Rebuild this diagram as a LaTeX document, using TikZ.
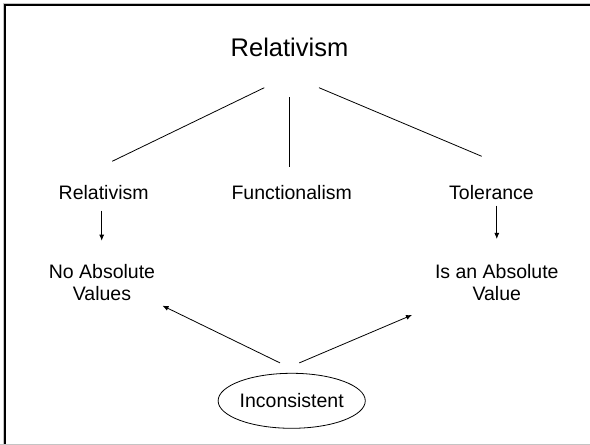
\documentclass[tikz,border=0pt]{standalone}
\usepackage{fontspec}
\setmainfont{Liberation Sans}
\usetikzlibrary{positioning,shapes.geometric,arrows.meta}
\definecolor{FrameGray}{HTML}{C4C4C4}

\begin{document}
\begin{tikzpicture}[x=1pt,y=1pt,
  lbl/.style={inner sep=0pt, anchor=base, align=center, font=\fontsize{19.5}{22.7}\selectfont},
  link/.style={line width=0.8pt},
  arr/.style={line width=0.8pt, -{Latex[length=6pt,width=5pt]}}]
  \useasboundingbox (0,0) rectangle (590,445);
  % frame
  \draw[FrameGray, line width=1pt] (3.3,0) |- (590,441.7);
  \draw[line width=2pt] (5,0) |- (590,440);
  \draw[FrameGray, line width=1pt] (0,0.8) -- (590,0.8);

  \node[lbl, font=\fontsize{25.5}{30}\selectfont] (top) at (289.5,388.3) {Relativism};
  \node[lbl] (rel) at (103.7,245.7) {Relativism};
  \node[lbl] (func) at (291.7,245.7) {Functionalism};
  \node[lbl] (tol) at (491.5,245.7) {Tolerance};
  \node[lbl] (noabs) at (102,144) {No Absolute\\Values};
  \node[lbl] (isabs) at (496.8,144) {Is an Absolute\\Value};
  \node[ellipse, draw, line width=0.8pt, inner sep=0pt, minimum width=143.4pt, minimum height=55pt,
    font=\fontsize{19.5}{22.7}\selectfont] (inc) at (291.7,44.2) {Inconsistent};

  % top tree
  \draw[link] ([shift={(-25.2,-31)}]top.base) -- ([shift={(8.5,38)}]rel.base);
  \draw[link] ([shift={(-0.2,-40.6)}]top.base) -- ([shift={(-2.4,32.6)}]func.base);
  \draw[link] ([shift={(29.5,-31)}]top.base) -- ([shift={(-9.8,43)}]tol.base);
  % down arrows
  \draw[arr] ([shift={(-2,-11.4)}]rel.base) -- ([shift={(-0.3,60.3)}]noabs.base);
  \draw[arr] ([shift={(5.3,-6.4)}]tol.base) -- ([shift={(0,62)}]isabs.base);
  % from the ellipse
  \draw[arr] ([shift={(-11.7,10)}]inc.north) -- ([shift={(60.5,-4.7)}]noabs.base);
  \draw[arr] ([shift={(7.6,10)}]inc.north) -- ([shift={(-84.8,-14)}]isabs.base);
\end{tikzpicture}
\end{document}
